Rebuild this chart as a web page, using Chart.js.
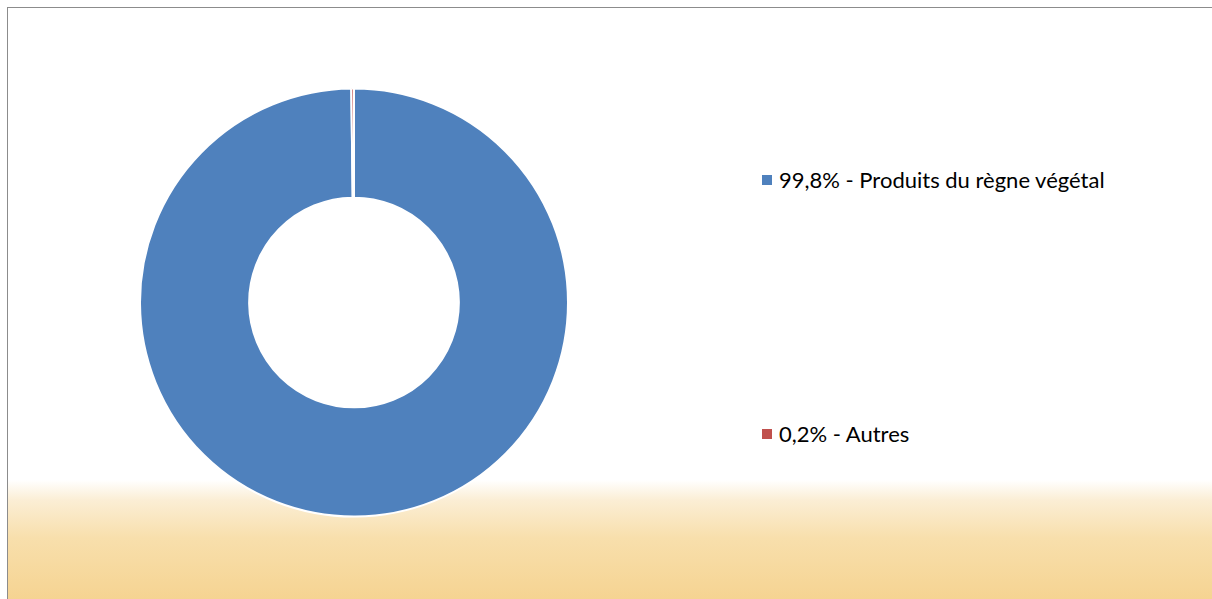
<!DOCTYPE html>
<html>
<head>
<meta charset="utf-8">
<script src="https://cdn.jsdelivr.net/npm/chart.js@4"></script>
<style>
  html, body { margin: 0; padding: 0; background: #fff; }
  #frame {
    position: absolute; left: 7px; top: 7px; width: 1220px; height: 600px;
    border-left: 1px solid #8c8c8c; border-top: 1px solid #8c8c8c;
    background: linear-gradient(to bottom, #ffffff 0px, #ffffff 472px, #fbeed5 492px, #f8dfac 530px, #f5d28e 600px);
    overflow: hidden;
  }
  #wrap { position: absolute; left: 139px; top: 87px; width: 430px; height: 431px; }
  #legend { position: absolute; left: 762px; top: 0; font-family: Lato, sans-serif; font-size: 22px; color: #000; }
  .item { position: absolute; white-space: nowrap; display: flex; align-items: center; }
  .box { width: 10px; height: 10px; margin-right: 7px; }
</style>
</head>
<body>
<div id="frame"></div>
<div id="wrap"><canvas id="DonutChart"></canvas></div>
<div id="legend"></div>
<script>
const labels = ['99,8% - Produits du règne végétal', '0,2% - Autres'];
const values = [99.8, 0.2];
const colors = ['rgb(79, 129, 189)', 'rgb(192, 80, 77)'];
const legendTops = [166, 420];

let donut = document.getElementById("DonutChart").getContext('2d');

const DonutChartv = new Chart(donut, {
  type: 'doughnut',
  data: {
    labels: labels,
    datasets: [{
      data: values,
      backgroundColor: colors,
      borderColor: '#ffffff',
      borderWidth: 2,
    }]
  },
  options: {
    responsive: true,
    maintainAspectRatio: false,
    animation: false,
    cutout: '49%',
    plugins: {
      legend: { display: false },
      tooltip: { enabled: false },
    },
  }
});

// legend built from the same arrays
const legend = document.getElementById('legend');
labels.forEach(function (lab, i) {
  const item = document.createElement('div');
  item.className = 'item';
  item.style.top = legendTops[i] + 'px';
  const box = document.createElement('span');
  box.className = 'box';
  box.style.background = colors[i];
  const txt = document.createElement('span');
  txt.textContent = lab;
  item.appendChild(box);
  item.appendChild(txt);
  legend.appendChild(item);
});
</script>
</body>
</html>
